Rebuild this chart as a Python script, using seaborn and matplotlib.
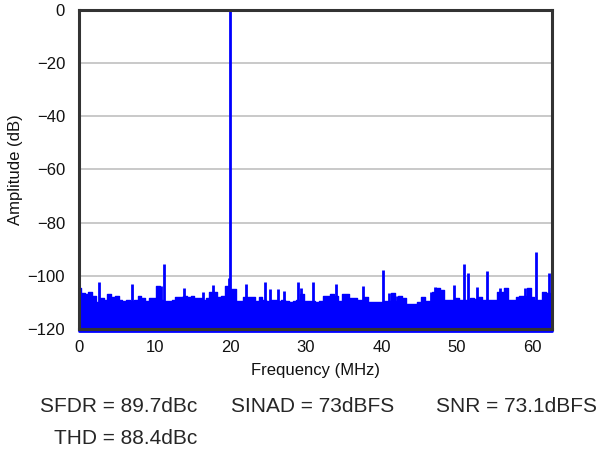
import numpy as np
import matplotlib
matplotlib.use("Agg")
import matplotlib.pyplot as plt
import seaborn as sns

# noise floor envelope (dB), read every 0.5 MHz from 0 to 62.5 MHz
floor_freq = np.arange(0, 63.0, 0.5)
floor_db = [
    -104.5, -106.5, -107.0, -106.0, -107.5, -110.0, -108.5, -109.0, -107.0, -108.0,
    -107.5, -109.0, -109.5, -109.0, -109.5, -109.0, -107.5, -108.5, -109.5, -108.5,
    -108.5, -104.0, -109.0, -109.5, -109.5, -109.0, -108.0, -108.0, -107.5, -108.0,
    -107.5, -108.5, -108.5, -109.0, -108.5, -106.0, -106.0, -108.0, -107.5, -104.0,
    -105.0, -105.0, -109.5, -109.5, -108.0, -108.0, -108.0, -109.5, -108.0, -109.0,
    -109.5, -109.0, -109.0, -109.5, -109.0, -109.5, -110.0, -109.5, -109.0, -107.0,
    -109.5, -109.5, -109.5, -110.0, -109.5, -107.5, -107.5, -107.0, -107.5, -109.5,
    -107.0, -107.0, -108.5, -108.5, -109.0, -109.0, -108.0, -110.0, -110.0, -110.0,
    -110.0, -109.5, -109.5, -106.5, -109.5, -107.7, -108.5, -110.5, -110.5, -110.5,
    -110.0, -108.0, -109.5, -109.5, -106.2, -104.5, -105.5, -109.0, -109.0, -109.0,
    -108.5, -109.0, -109.0, -109.0, -108.5, -108.9, -108.0, -109.0, -109.0, -109.0,
    -109.0, -106.2, -106.0, -104.7, -109.0, -109.0, -108.0, -107.5, -107.5, -104.5,
    -108.0, -109.0, -109.0, -106.0, -106.5, -107.0,
]

# fundamental and spurs
spur_freq = [2.6, 7.0, 10.8, 11.3, 13.9, 16.4, 17.7, 19.8, 20.0, 22.1, 24.6, 25.3,
             26.3, 27.1, 29.0, 29.4, 31.0, 34.0, 37.6, 40.2, 41.0, 42.1, 46.6, 47.1,
             49.6, 50.9, 51.5, 52.6, 54.0, 55.7, 59.0, 60.4, 62.2]
spur_db = [-102.5, -103.0, -104.0, -95.6, -104.6, -106.0, -103.5, -101.0, 0.0, -103.1,
           -102.5, -105.0, -105.0, -105.6, -102.5, -104.6, -102.5, -103.1, -104.0, -97.7,
           -106.5, -107.7, -106.2, -104.4, -103.5, -95.6, -98.8, -104.4, -98.4, -104.7,
           -104.5, -90.9, -99.1]

stats_line1 = ["SFDR = 89.7dBc", "SINAD = 73dBFS", "SNR = 73.1dBFS"]
stats_line2 = "THD = 88.4dBc"

sns.set_style("white")
plt.rcParams["font.family"] = ["Liberation Sans", "DejaVu Sans"]

fig = plt.figure(figsize=(5.99, 4.5), dpi=100)
ax = fig.add_axes([79 / 599, 1 - 329 / 450, (551.5 - 79) / 599, (329 - 9.5) / 450])

blue = "#0000ff"
ax.fill_between(floor_freq, floor_db, -120, step="mid", color=blue, lw=0)
sns.lineplot(x=floor_freq, y=floor_db, ax=ax, color=blue, lw=1, drawstyle="steps-mid")
ax.vlines(spur_freq, -120, spur_db, color=blue, lw=2.0)
ax.axhline(-120.6, color=blue, lw=2, clip_on=False, zorder=1)

ax.set_xlim(0, 62.5)
ax.set_ylim(-120, 0)
ax.set_xticks(range(0, 61, 10))
ax.set_yticks(range(-120, 1, 20))
ax.yaxis.grid(True, color="#c0c0c0", lw=1.2)
ax.xaxis.grid(False)
ax.set_axisbelow(True)
ax.tick_params(length=0, labelsize=12, colors="#111111")
ax.tick_params(axis="y", pad=10)
ax.tick_params(axis="x", pad=8)
for s in ax.spines.values():
    s.set_visible(True)
    s.set_color("#333333")
    s.set_linewidth(2.2)
    s.set_zorder(5)

ax.set_xlabel("Frequency (MHz)", fontsize=12, labelpad=6, color="#111111")
ax.set_ylabel("Amplitude (dB)", fontsize=12, color="#111111")
ax.yaxis.set_label_coords(-0.118, 0.5)

fig.text(197 / 599, 1 - 407 / 450, stats_line1[0], fontsize=15, ha="right", va="center")
fig.text(231 / 599, 1 - 407 / 450, stats_line1[1], fontsize=15, ha="left", va="center")
fig.text(597 / 599, 1 - 407 / 450, stats_line1[2], fontsize=15, ha="right", va="center")
fig.text(197 / 599, 1 - 438 / 450, stats_line2, fontsize=15, ha="right", va="center")

fig.savefig("out.png", dpi=100)
